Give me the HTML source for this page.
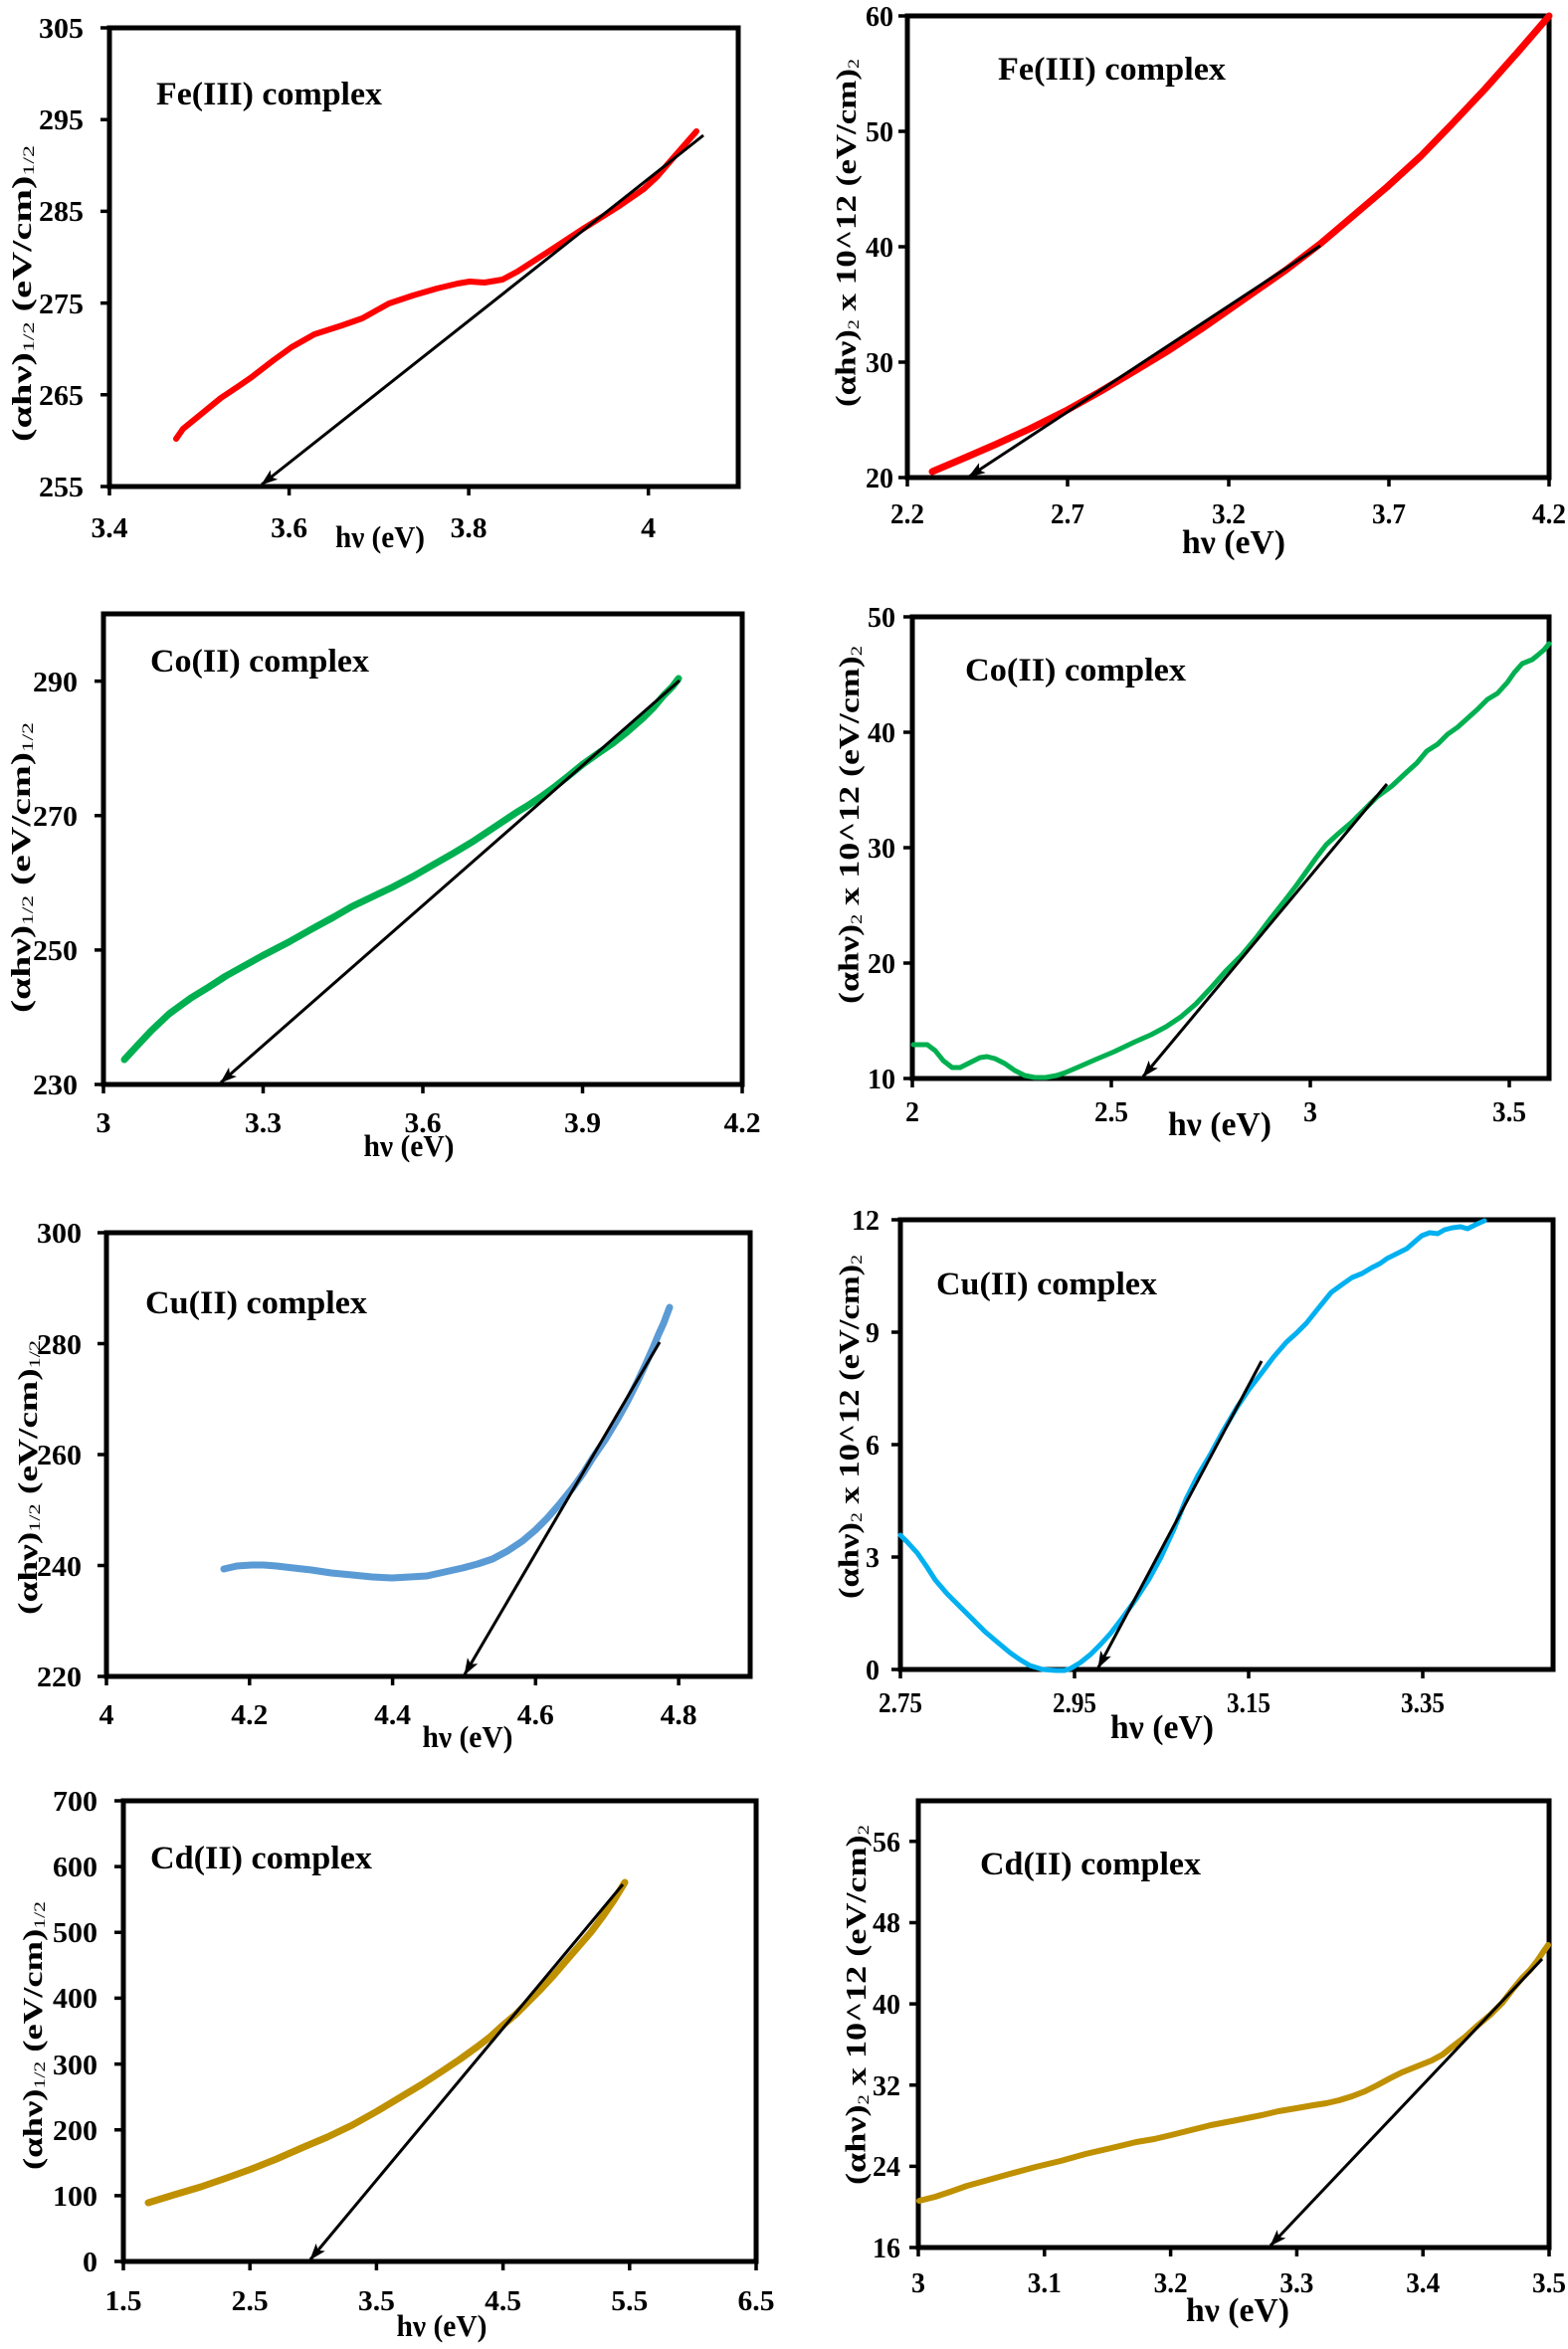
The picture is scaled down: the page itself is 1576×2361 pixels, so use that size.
<!DOCTYPE html>
<html>
<head>
<meta charset="utf-8">
<style>
html,body{margin:0;padding:0;background:#fff;}
svg{display:block;}
text{font-family:"Liberation Serif","Times New Roman",serif;font-weight:bold;fill:#000;}
.tk{font-size:29px;}
.tkr{font-size:28px;}
.ttl{font-size:33px;}
.hv{font-size:31px;}
.hvr{font-size:34px;}
.yt{font-size:27px;}
.ytr{font-size:28px;}
.sub{font-size:16px;font-weight:normal;}
.fr{fill:none;stroke:#000;stroke-width:5;}
.tm{stroke:#000;stroke-width:3.5;fill:none;}
.cv{fill:none;stroke-linejoin:round;stroke-linecap:round;}
.tg{stroke:#000;stroke-width:3;fill:none;}
</style>
</head>
<body>
<svg width="1576" height="2361" viewBox="0 0 1576 2361" xmlns="http://www.w3.org/2000/svg">
<defs>
<marker id="ar" markerUnits="userSpaceOnUse" markerWidth="18" markerHeight="12" refX="16" refY="6" orient="auto">
<path d="M0,0 L17,6 L0,12 L4,6 z" fill="#000"/>
</marker>
</defs>
<rect width="1576" height="2361" fill="#fff"/>

<!-- ================= P1 Fe(III) sqrt ================= -->
<rect class="fr" x="110" y="28" width="632" height="461"/>
<path class="tm" d="M101,489H110M101,396.8H110M101,304.6H110M101,212.4H110M101,120.2H110M101,28H110M110,489V498M290.6,489V498M471.1,489V498M651.7,489V498"/>
<g class="tk" text-anchor="end" lengthAdjust="spacingAndGlyphs">
<text x="84" y="499" textLength="45" lengthAdjust="spacingAndGlyphs">255</text><text x="84" y="407" textLength="45" lengthAdjust="spacingAndGlyphs">265</text><text x="84" y="315" textLength="45" lengthAdjust="spacingAndGlyphs">275</text><text x="84" y="222" textLength="45" lengthAdjust="spacingAndGlyphs">285</text><text x="84" y="130" textLength="45" lengthAdjust="spacingAndGlyphs">295</text><text x="84" y="38" textLength="45" lengthAdjust="spacingAndGlyphs">305</text>
</g>
<g class="tk" text-anchor="middle">
<text x="110" y="540" textLength="37" lengthAdjust="spacingAndGlyphs">3.4</text><text x="290.6" y="540" textLength="37" lengthAdjust="spacingAndGlyphs">3.6</text><text x="471.1" y="540" textLength="37" lengthAdjust="spacingAndGlyphs">3.8</text><text x="651.7" y="540" textLength="15" lengthAdjust="spacingAndGlyphs">4</text>
</g>
<polyline class="cv" stroke="#ff0000" stroke-width="6" points="177,441 184,431 200,418 222,400 240,388 253,379 275,362 293,349 316,336 344,327 364,320 391,305 415,297 439,290 460,285 472,283 487,284 505,281 520,273 551,253 586,230 621,208 647,190 660,178 672,164 686,148 700,132"/>
<line class="tg" x1="707" y1="136" x2="263" y2="487" marker-end="url(#ar)"/>
<text class="ttl" x="157" y="105" textLength="227" lengthAdjust="spacingAndGlyphs">Fe(III) complex</text>
<text class="hv" x="382" y="550" text-anchor="middle" textLength="90" lengthAdjust="spacingAndGlyphs">hν (eV)</text>
<text class="yt" transform="translate(22,295) rotate(-90)" text-anchor="middle" dominant-baseline="central" textLength="298" lengthAdjust="spacingAndGlyphs">(αhν)<tspan class="sub" dy="7">1/2</tspan><tspan dy="-7"> (eV/cm)</tspan><tspan class="sub" dy="7">1/2</tspan></text>

<!-- ================= P2 Fe(III) squared ================= -->
<rect class="fr" x="912" y="16" width="645" height="464"/>
<path class="tm" d="M903,480H912M903,364H912M903,248H912M903,132H912M903,16H912M912,480V489M1073,480V489M1235,480V489M1396,480V489M1557,480V489"/>
<g class="tkr" text-anchor="end">
<text x="898" y="490" textLength="28" lengthAdjust="spacingAndGlyphs">20</text><text x="898" y="374" textLength="28" lengthAdjust="spacingAndGlyphs">30</text><text x="898" y="258" textLength="28" lengthAdjust="spacingAndGlyphs">40</text><text x="898" y="142" textLength="28" lengthAdjust="spacingAndGlyphs">50</text><text x="898" y="26" textLength="28" lengthAdjust="spacingAndGlyphs">60</text>
</g>
<g class="tkr" text-anchor="middle">
<text x="912" y="526" textLength="34" lengthAdjust="spacingAndGlyphs">2.2</text><text x="1073" y="526" textLength="34" lengthAdjust="spacingAndGlyphs">2.7</text><text x="1235" y="526" textLength="34" lengthAdjust="spacingAndGlyphs">3.2</text><text x="1396" y="526" textLength="34" lengthAdjust="spacingAndGlyphs">3.7</text><text x="1557" y="526" textLength="34" lengthAdjust="spacingAndGlyphs">4.2</text>
</g>
<polyline class="cv" stroke="#ff0000" stroke-width="7" points="937,474 970,460 1000,447 1035,431 1071,413 1105,394 1142,372 1175,352 1207,331 1250,301 1293,271 1327,245 1360,217 1394,188 1428,157 1460,124 1493,89 1525,53 1557,16"/>
<line class="tg" x1="1327" y1="247" x2="974" y2="479" marker-end="url(#ar)"/>
<text class="ttl" x="1003" y="80" textLength="229" lengthAdjust="spacingAndGlyphs">Fe(III) complex</text>
<text class="hvr" x="1240" y="556" text-anchor="middle" textLength="104" lengthAdjust="spacingAndGlyphs">hν (eV)</text>
<text class="ytr" transform="translate(851,234) rotate(-90)" text-anchor="middle" dominant-baseline="central" textLength="350" lengthAdjust="spacingAndGlyphs">(αhν)<tspan class="sub" dy="7">2</tspan><tspan dy="-7"> x 10^12 (eV/cm)</tspan><tspan class="sub" dy="7">2</tspan></text>

<!-- ================= P3 Co(II) sqrt ================= -->
<rect class="fr" x="104" y="617" width="642" height="473"/>
<path class="tm" d="M95,1090H104M95,954.9H104M95,819.7H104M95,684.6H104M104,1090V1099M264.5,1090V1099M425,1090V1099M585.5,1090V1099M746,1090V1099"/>
<g class="tk" text-anchor="end">
<text x="78" y="1100" textLength="45" lengthAdjust="spacingAndGlyphs">230</text><text x="78" y="965" textLength="45" lengthAdjust="spacingAndGlyphs">250</text><text x="78" y="830" textLength="45" lengthAdjust="spacingAndGlyphs">270</text><text x="78" y="695" textLength="45" lengthAdjust="spacingAndGlyphs">290</text>
</g>
<g class="tk" text-anchor="middle">
<text x="104" y="1138" textLength="15" lengthAdjust="spacingAndGlyphs">3</text><text x="264.5" y="1138" textLength="37" lengthAdjust="spacingAndGlyphs">3.3</text><text x="425" y="1138" textLength="37" lengthAdjust="spacingAndGlyphs">3.6</text><text x="585.5" y="1138" textLength="37" lengthAdjust="spacingAndGlyphs">3.9</text><text x="746" y="1138" textLength="37" lengthAdjust="spacingAndGlyphs">4.2</text>
</g>
<polyline class="cv" stroke="#00b050" stroke-width="7" points="125,1065 137,1052 152,1036 170,1019 192,1003 210,992 227,981 245,971 263,961 290,947 313,934 335,922 354,911 375,901 394,892 415,881 434,870 455,858 475,846 490,836 505,826 520,816 530,810 545,800 556,792 570,781 586,768 600,758 616,747 630,736 646,722 657,711 667,699 676,690 682,682"/>
<line class="tg" x1="683" y1="684" x2="222" y2="1088" marker-end="url(#ar)"/>
<text class="ttl" x="151" y="675" textLength="220" lengthAdjust="spacingAndGlyphs">Co(II) complex</text>
<text class="hv" x="411" y="1162" text-anchor="middle" textLength="91" lengthAdjust="spacingAndGlyphs">hν (eV)</text>
<text class="yt" transform="translate(21,872) rotate(-90)" text-anchor="middle" dominant-baseline="central" textLength="292" lengthAdjust="spacingAndGlyphs">(αhν)<tspan class="sub" dy="7">1/2</tspan><tspan dy="-7"> (eV/cm)</tspan><tspan class="sub" dy="7">1/2</tspan></text>

<!-- ================= P4 Co(II) squared ================= -->
<rect class="fr" x="917" y="620" width="640" height="464"/>
<path class="tm" d="M908,1084H917M908,968H917M908,852H917M908,736H917M908,620H917M917,1084V1093M1117,1084V1093M1317,1084V1093M1517,1084V1093"/>
<g class="tkr" text-anchor="end">
<text x="900" y="1094" textLength="28" lengthAdjust="spacingAndGlyphs">10</text><text x="900" y="978" textLength="28" lengthAdjust="spacingAndGlyphs">20</text><text x="900" y="862" textLength="28" lengthAdjust="spacingAndGlyphs">30</text><text x="900" y="746" textLength="28" lengthAdjust="spacingAndGlyphs">40</text><text x="900" y="630" textLength="28" lengthAdjust="spacingAndGlyphs">50</text>
</g>
<g class="tkr" text-anchor="middle">
<text x="917" y="1127" textLength="14" lengthAdjust="spacingAndGlyphs">2</text><text x="1117" y="1127" textLength="34" lengthAdjust="spacingAndGlyphs">2.5</text><text x="1317" y="1127" textLength="14" lengthAdjust="spacingAndGlyphs">3</text><text x="1517" y="1127" textLength="34" lengthAdjust="spacingAndGlyphs">3.5</text>
</g>
<polyline class="cv" stroke="#00b050" stroke-width="5" points="918,1050 932,1050 940,1056 948,1066 957,1073 965,1073 975,1068 985,1063 992,1062 1000,1064 1010,1069 1020,1076 1030,1081 1040,1083 1051,1083 1062,1081 1071,1078 1085,1072 1101,1065 1120,1057 1141,1047 1157,1040 1172,1032 1187,1022 1202,1009 1217,993 1232,976 1248,960 1263,942 1278,922 1293,903 1303,890 1313,876 1323,862 1333,849 1345,838 1359,826 1372,813 1384,801 1399,790 1414,776 1424,767 1434,755 1445,748 1455,738 1465,731 1475,722 1485,713 1495,703 1505,697 1515,686 1522,676 1530,667 1540,663 1545,659 1552,653 1557,647"/>
<line class="tg" x1="1394" y1="788" x2="1149" y2="1082" marker-end="url(#ar)"/>
<text class="ttl" x="970" y="684" textLength="222" lengthAdjust="spacingAndGlyphs">Co(II) complex</text>
<text class="hvr" x="1226" y="1141" text-anchor="middle" textLength="104" lengthAdjust="spacingAndGlyphs">hν (eV)</text>
<text class="ytr" transform="translate(854,829) rotate(-90)" text-anchor="middle" dominant-baseline="central" textLength="360" lengthAdjust="spacingAndGlyphs">(αhν)<tspan class="sub" dy="7">2</tspan><tspan dy="-7"> x 10^12 (eV/cm)</tspan><tspan class="sub" dy="7">2</tspan></text>

<!-- ================= P5 Cu(II) sqrt ================= -->
<rect class="fr" x="107" y="1239" width="647" height="446"/>
<path class="tm" d="M98,1685H107M98,1573.5H107M98,1462H107M98,1350.5H107M98,1239H107M107,1685V1694M250.8,1685V1694M394.6,1685V1694M538.3,1685V1694M682.1,1685V1694"/>
<g class="tk" text-anchor="end">
<text x="82" y="1695" textLength="45" lengthAdjust="spacingAndGlyphs">220</text><text x="82" y="1584" textLength="45" lengthAdjust="spacingAndGlyphs">240</text><text x="82" y="1472" textLength="45" lengthAdjust="spacingAndGlyphs">260</text><text x="82" y="1361" textLength="45" lengthAdjust="spacingAndGlyphs">280</text><text x="82" y="1249" textLength="45" lengthAdjust="spacingAndGlyphs">300</text>
</g>
<g class="tk" text-anchor="middle">
<text x="107" y="1733" textLength="15" lengthAdjust="spacingAndGlyphs">4</text><text x="250.8" y="1733" textLength="37" lengthAdjust="spacingAndGlyphs">4.2</text><text x="394.6" y="1733" textLength="37" lengthAdjust="spacingAndGlyphs">4.4</text><text x="538.3" y="1733" textLength="37" lengthAdjust="spacingAndGlyphs">4.6</text><text x="682.1" y="1733" textLength="37" lengthAdjust="spacingAndGlyphs">4.8</text>
</g>
<polyline class="cv" stroke="#5b9bd5" stroke-width="7" points="225,1577 238,1574 253,1573 265,1573 278,1574 295,1576 313,1578 333,1581 354,1583 374,1585 394,1586 412,1585 429,1584 447,1580 465,1576 480,1572 495,1567 510,1559 525,1549 538,1538 550,1526 563,1511 576,1495 586,1481 596,1465 609,1446 621,1426 631,1408 641,1388 649,1371 657,1353 662,1341 667,1330 673,1314"/>
<line class="tg" x1="663" y1="1349" x2="467" y2="1683" marker-end="url(#ar)"/>
<text class="ttl" x="146" y="1320" textLength="223" lengthAdjust="spacingAndGlyphs">Cu(II) complex</text>
<text class="hv" x="470" y="1756" text-anchor="middle" textLength="91" lengthAdjust="spacingAndGlyphs">hν (eV)</text>
<text class="yt" transform="translate(28,1485) rotate(-90)" text-anchor="middle" dominant-baseline="central" textLength="276" lengthAdjust="spacingAndGlyphs">(αhν)<tspan class="sub" dy="7">1/2</tspan><tspan dy="-7"> (eV/cm)</tspan><tspan class="sub" dy="7">1/2</tspan></text>

<!-- ================= P6 Cu(II) squared ================= -->
<rect class="fr" x="905" y="1226" width="656" height="452"/>
<path class="tm" d="M896,1678H905M896,1565H905M896,1452H905M896,1339H905M896,1226H905M905,1678V1687M1080,1678V1687M1255,1678V1687M1430,1678V1687"/>
<g class="tkr" text-anchor="end">
<text x="884" y="1688" textLength="14" lengthAdjust="spacingAndGlyphs">0</text><text x="884" y="1575" textLength="14" lengthAdjust="spacingAndGlyphs">3</text><text x="884" y="1462" textLength="14" lengthAdjust="spacingAndGlyphs">6</text><text x="884" y="1349" textLength="14" lengthAdjust="spacingAndGlyphs">9</text><text x="884" y="1236" textLength="28" lengthAdjust="spacingAndGlyphs">12</text>
</g>
<g class="tkr" text-anchor="middle">
<text x="905" y="1721" textLength="44" lengthAdjust="spacingAndGlyphs">2.75</text><text x="1080" y="1721" textLength="44" lengthAdjust="spacingAndGlyphs">2.95</text><text x="1255" y="1721" textLength="44" lengthAdjust="spacingAndGlyphs">3.15</text><text x="1430" y="1721" textLength="44" lengthAdjust="spacingAndGlyphs">3.35</text>
</g>
<polyline class="cv" stroke="#00b0f0" stroke-width="5" points="905,1543 912,1550 922,1561 931,1574 940,1588 952,1602 965,1615 978,1628 990,1640 1003,1651 1015,1661 1025,1668 1035,1674 1048,1678 1061,1679 1070,1679 1076,1677 1086,1671 1096,1663 1106,1653 1116,1642 1129,1625 1142,1607 1155,1587 1167,1565 1180,1537 1192,1507 1204,1483 1217,1461 1230,1437 1243,1415 1255,1397 1268,1380 1280,1364 1293,1349 1303,1340 1313,1330 1325,1315 1338,1299 1349,1291 1359,1284 1369,1280 1379,1274 1387,1270 1394,1265 1404,1260 1414,1255 1422,1248 1429,1242 1437,1239 1445,1240 1452,1236 1460,1234 1468,1233 1475,1235 1483,1231 1492,1227"/>
<line class="tg" x1="1268" y1="1368" x2="1104" y2="1676" marker-end="url(#ar)"/>
<text class="ttl" x="941" y="1301" textLength="222" lengthAdjust="spacingAndGlyphs">Cu(II) complex</text>
<text class="hvr" x="1168" y="1747" text-anchor="middle" textLength="104" lengthAdjust="spacingAndGlyphs">hν (eV)</text>
<text class="ytr" transform="translate(854,1434) rotate(-90)" text-anchor="middle" dominant-baseline="central" textLength="346" lengthAdjust="spacingAndGlyphs">(αhν)<tspan class="sub" dy="7">2</tspan><tspan dy="-7"> x 10^12 (eV/cm)</tspan><tspan class="sub" dy="7">2</tspan></text>

<!-- ================= P7 Cd(II) sqrt ================= -->
<rect class="fr" x="124" y="1810" width="636" height="463"/>
<path class="tm" d="M115,2273H124M115,2206.9H124M115,2140.7H124M115,2074.6H124M115,2008.4H124M115,1942.3H124M115,1876.1H124M115,1810H124M124,2273V2282M251.2,2273V2282M378.4,2273V2282M505.6,2273V2282M632.8,2273V2282M760,2273V2282"/>
<g class="tk" text-anchor="end">
<text x="98" y="2283" textLength="15" lengthAdjust="spacingAndGlyphs">0</text><text x="98" y="2217" textLength="45" lengthAdjust="spacingAndGlyphs">100</text><text x="98" y="2151" textLength="45" lengthAdjust="spacingAndGlyphs">200</text><text x="98" y="2085" textLength="45" lengthAdjust="spacingAndGlyphs">300</text><text x="98" y="2018" textLength="45" lengthAdjust="spacingAndGlyphs">400</text><text x="98" y="1952" textLength="45" lengthAdjust="spacingAndGlyphs">500</text><text x="98" y="1886" textLength="45" lengthAdjust="spacingAndGlyphs">600</text><text x="98" y="1820" textLength="45" lengthAdjust="spacingAndGlyphs">700</text>
</g>
<g class="tk" text-anchor="middle">
<text x="124" y="2322" textLength="37" lengthAdjust="spacingAndGlyphs">1.5</text><text x="251.2" y="2322" textLength="37" lengthAdjust="spacingAndGlyphs">2.5</text><text x="378.4" y="2322" textLength="37" lengthAdjust="spacingAndGlyphs">3.5</text><text x="505.6" y="2322" textLength="37" lengthAdjust="spacingAndGlyphs">4.5</text><text x="632.8" y="2322" textLength="37" lengthAdjust="spacingAndGlyphs">5.5</text><text x="760" y="2322" textLength="37" lengthAdjust="spacingAndGlyphs">6.5</text>
</g>
<polyline class="cv" stroke="#bf9000" stroke-width="7" points="149,2214 175,2206 202,2198 228,2189 253,2180 278,2170 303,2159 329,2148 354,2136 379,2122 404,2107 424,2095 444,2082 462,2070 480,2057 493,2047 505,2036 518,2025 530,2013 543,2000 556,1986 568,1972 581,1957 594,1942 606,1926 617,1910 628,1892"/>
<line class="tg" x1="626" y1="1894" x2="312" y2="2271" marker-end="url(#ar)"/>
<text class="ttl" x="151" y="1878" textLength="223" lengthAdjust="spacingAndGlyphs">Cd(II) complex</text>
<text class="hv" x="444" y="2348" text-anchor="middle" textLength="91" lengthAdjust="spacingAndGlyphs">hν (eV)</text>
<text class="yt" transform="translate(33,2046) rotate(-90)" text-anchor="middle" dominant-baseline="central" textLength="270" lengthAdjust="spacingAndGlyphs">(αhν)<tspan class="sub" dy="7">1/2</tspan><tspan dy="-7"> (eV/cm)</tspan><tspan class="sub" dy="7">1/2</tspan></text>

<!-- ================= P8 Cd(II) squared ================= -->
<rect class="fr" x="923" y="1810" width="634" height="449"/>
<path class="tm" d="M914,2259H923M914,2177.4H923M914,2095.7H923M914,2014.1H923M914,1932.5H923M914,1850.8H923M923,2259V2268M1049.8,2259V2268M1176.6,2259V2268M1303.4,2259V2268M1430.2,2259V2268M1557,2259V2268"/>
<g class="tkr" text-anchor="end">
<text x="905" y="2269" textLength="28" lengthAdjust="spacingAndGlyphs">16</text><text x="905" y="2187" textLength="28" lengthAdjust="spacingAndGlyphs">24</text><text x="905" y="2106" textLength="28" lengthAdjust="spacingAndGlyphs">32</text><text x="905" y="2024" textLength="28" lengthAdjust="spacingAndGlyphs">40</text><text x="905" y="1942" textLength="28" lengthAdjust="spacingAndGlyphs">48</text><text x="905" y="1861" textLength="28" lengthAdjust="spacingAndGlyphs">56</text>
</g>
<g class="tkr" text-anchor="middle">
<text x="923" y="2304" textLength="14" lengthAdjust="spacingAndGlyphs">3</text><text x="1049.8" y="2304" textLength="34" lengthAdjust="spacingAndGlyphs">3.1</text><text x="1176.6" y="2304" textLength="34" lengthAdjust="spacingAndGlyphs">3.2</text><text x="1303.4" y="2304" textLength="34" lengthAdjust="spacingAndGlyphs">3.3</text><text x="1430.2" y="2304" textLength="34" lengthAdjust="spacingAndGlyphs">3.4</text><text x="1557" y="2304" textLength="34" lengthAdjust="spacingAndGlyphs">3.5</text>
</g>
<polyline class="cv" stroke="#bf9000" stroke-width="6" points="924,2212 940,2208 955,2203 972,2197 990,2192 1015,2185 1041,2178 1066,2172 1091,2165 1117,2159 1142,2153 1160,2150 1177,2146 1197,2141 1217,2136 1243,2131 1268,2126 1285,2122 1303,2119 1320,2116 1333,2114 1346,2111 1359,2107 1372,2102 1384,2096 1397,2089 1409,2083 1424,2077 1439,2071 1450,2065 1460,2057 1473,2047 1485,2036 1498,2025 1510,2013 1520,2000 1530,1988 1538,1980 1545,1971 1551,1962 1556,1955"/>
<line class="tg" x1="1550" y1="1969" x2="1277" y2="2257" marker-end="url(#ar)"/>
<text class="ttl" x="985" y="1884" textLength="222" lengthAdjust="spacingAndGlyphs">Cd(II) complex</text>
<text class="hvr" x="1244" y="2333" text-anchor="middle" textLength="104" lengthAdjust="spacingAndGlyphs">hν (eV)</text>
<text class="ytr" transform="translate(861,2015) rotate(-90)" text-anchor="middle" dominant-baseline="central" textLength="362" lengthAdjust="spacingAndGlyphs">(αhν)<tspan class="sub" dy="7">2</tspan><tspan dy="-7"> x 10^12 (eV/cm)</tspan><tspan class="sub" dy="7">2</tspan></text>
</svg>
</body>
</html>
